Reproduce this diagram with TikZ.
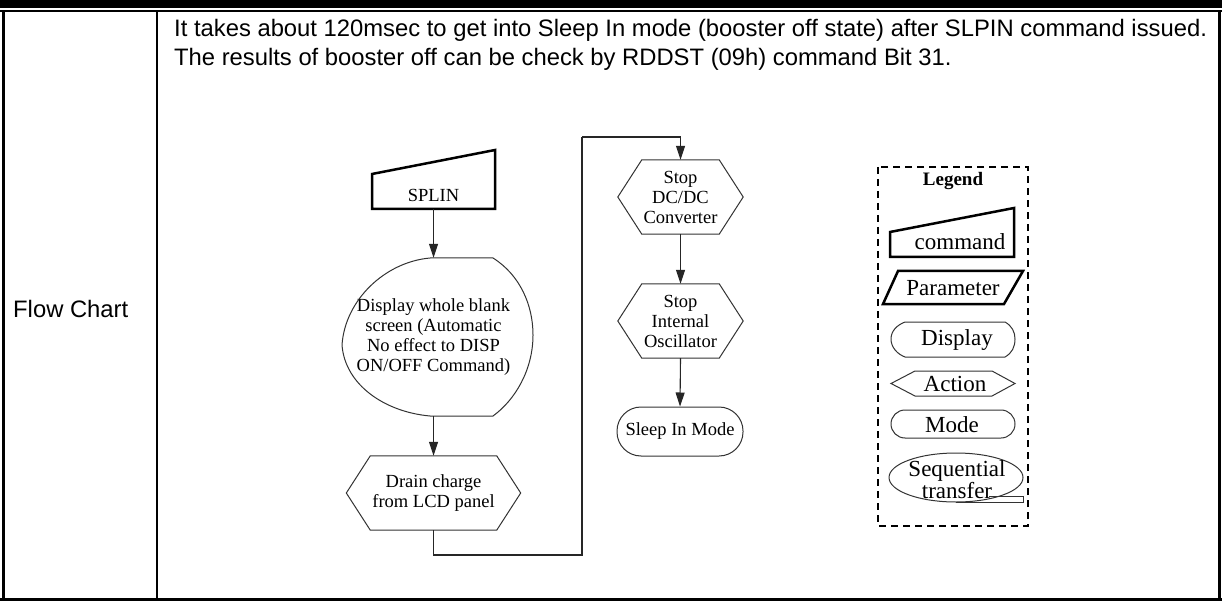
\documentclass[tikz,border=0pt]{standalone}
\usepackage{fontspec}
\setmainfont{Liberation Serif}
\newfontfamily\arialf{Liberation Sans}
\usetikzlibrary{arrows.meta,calc}
\newcommand{\fsz}[2]{\fontsize{#1}{#2}\selectfont}
\begin{document}
\begin{tikzpicture}[x=1pt,y=-1pt,
  hdr/.style={font=\arialf\fsz{23.8}{26}, inner sep=0pt},
  flow/.style={font=\fsz{18.5}{20}, align=center, inner sep=0pt},
  leg/.style={font=\fsz{23}{14}, align=center, inner sep=0pt},
  thinl/.style={draw=black!80, line width=1pt},
  boldl/.style={draw=black, line width=2.5pt},
  conn/.style={draw=black!85, line width=1.1pt, -{Triangle[length=14pt,width=9pt]}},
  wire/.style={draw=black!85, line width=1.1pt},
  dashbox/.style={draw=black, line width=1.3pt, dash pattern=on 7pt off 5pt}]
\useasboundingbox (0,0) rectangle (1222,601);
\fill[white] (0,0) rectangle (1222,601);
% ---- table frame
\fill[black] (0,0) rectangle (1222,8);
\draw[line width=2pt] (0,11) -- (1222,11);
\draw[line width=3pt] (3,11) -- (3,601);
\draw[line width=2pt] (157,11) -- (157,598);
\draw[line width=3pt] (1219.5,11) -- (1219.5,601);
\draw[line width=3pt] (0,599.5) -- (1222,599.5);
% ---- header texts
\node[hdr, anchor=base west] (l1) at (174,37) {It takes about 120msec to get into Sleep In mode (booster off state) after SLPIN command issued.};
\node[hdr, anchor=base west] (l2) at (174,66) {The results of booster off can be check by RDDST (09h) command Bit 31.};
\node[hdr, anchor=base west] (fc) at (13,317) {Flow Chart};
% ---- flow chart
% SPLIN command
\coordinate (sp1) at (372,174); \coordinate (sp2) at (495,150);
\coordinate (sp3) at (495,209); \coordinate (sp4) at (372,209);
\draw[boldl, line join=miter] (sp1) -- (sp2) -- (sp3) -- (sp4) -- cycle;
\node[flow] (splin) at (433.5,195) {SPLIN};
\coordinate (splinS) at (433.5,209);
% display
\node[flow, minimum width=182pt, minimum height=158pt] (disp) at (433.5,337) {Display whole blank\\screen (Automatic\\No effect to DISP\\ON/OFF Command)};
\draw[thinl] (430,258) -- (493,258) .. controls (520,275) and (533,305) .. (533,335)
  .. controls (533,370) and (515,400) .. (493,416) -- (430,416)
  .. controls (385,412) and (345,385) .. (342,345)
  .. controls (345,300) and (385,262) .. (430,258);
% drain
\node[flow, minimum width=174pt, minimum height=74pt] (drain) at (433.5,493) {Drain charge\\from LCD panel};
\draw[thinl] (drain.west) -- ([xshift=24pt]drain.north west) -- ([xshift=-24pt]drain.north east)
  -- (drain.east) -- ([xshift=-24pt]drain.south east) -- ([xshift=24pt]drain.south west) -- cycle;
% stop dc/dc
\node[flow, minimum width=125pt, minimum height=74pt] (dcdc) at (680.5,197) {Stop\\DC/DC\\Converter};
\draw[thinl] (dcdc.west) -- ([xshift=24pt]dcdc.north west) -- ([xshift=-24pt]dcdc.north east)
  -- (dcdc.east) -- ([xshift=-24pt]dcdc.south east) -- ([xshift=24pt]dcdc.south west) -- cycle;
% stop osc
\node[flow, minimum width=125pt, minimum height=74pt] (osc) at (680.5,321) {Stop\\Internal\\Oscillator};
\draw[thinl] (osc.west) -- ([xshift=24pt]osc.north west) -- ([xshift=-24pt]osc.north east)
  -- (osc.east) -- ([xshift=-24pt]osc.south east) -- ([xshift=24pt]osc.south west) -- cycle;
% sleep in mode
\node[flow, thinl, rounded corners=24pt, minimum width=126pt, minimum height=49pt] (sleep) at (680,431.5) {Sleep In Mode};
% connectors
\draw[conn] (splinS) -- (disp.north);
\draw[conn] (disp.south) -- (drain.north);
\coordinate (c1) at (582,555);
\coordinate (c2) at (582,137);
\draw[wire] (drain.south) |- (c1) -- (c2);
\draw[conn] (c2) -| (dcdc.north);
\draw[conn] (dcdc.south) -- (osc.north);
\draw[conn] (osc.south) -- (sleep.north);
% ---- legend
\draw[dashbox] (878,167) rectangle (1028,526);
\node[font=\bfseries\fsz{19}{20}, inner sep=0pt] (legt) at (953,181) {Legend};
% command
\draw[boldl, line join=miter] (890,232) -- (1014,208) -- (1014,257) -- (890,257) -- cycle;
\node[leg] (lcmd) at (960,242) {command};
% parameter
\draw[boldl, line join=miter] (898,271) -- (1023,271) -- (1004,304) -- (883,304) -- cycle;
\node[leg] (lpar) at (953,288) {Parameter};
% display
\draw[thinl] (905,322) -- (1005,322) .. controls (1012,326) and (1015,332) .. (1015,339)
  .. controls (1015,347) and (1012,353) .. (1005,357) -- (905,357)
  .. controls (897,354) and (891,347) .. (891,339) .. controls (891,331) and (897,325) .. (905,322);
\node[leg] (ldis) at (957,340) {Display};
% action
\draw[thinl] (891,383.5) -- (915,371) -- (992,371) -- (1015,383.5) -- (992,396) -- (915,396) -- cycle;
\node[leg] (lact) at (955,384) {Action};
% mode
\draw[thinl, rounded corners=14pt] (891,410) rectangle (1015,438);
\node[leg] (lmode) at (952,425) {Mode};
% sequential
\draw[thinl] (956,477.5) ellipse [x radius=67pt, y radius=24.5pt];
\draw[thinl] (956,502) -- (1023,502) -- (1023,496) -- (989,496);
\node[leg] (lseq) at (957,480) {Sequential\\transfer};
\end{tikzpicture}
\end{document}
